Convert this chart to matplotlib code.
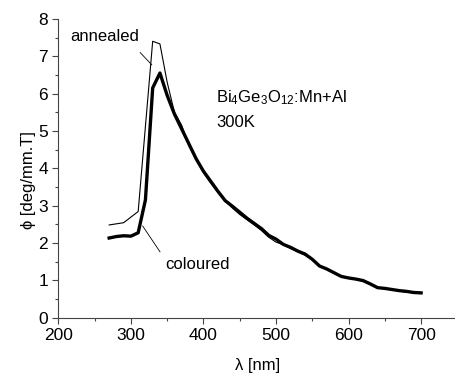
import matplotlib
matplotlib.use("Agg")
import matplotlib.pyplot as plt
from matplotlib.ticker import MultipleLocator

plt.rcParams['font.family'] = ['Liberation Sans', 'DejaVu Sans']
plt.rcParams['mathtext.fontset'] = 'custom'
plt.rcParams['mathtext.rm'] = 'Liberation Sans'
plt.rcParams['mathtext.it'] = 'Liberation Sans:italic'

wl_coloured = [270, 280, 290, 300, 310, 320, 330, 340, 350, 360, 370, 380, 390, 400,
               410, 420, 430, 440, 450, 460, 470, 480, 490, 500, 510, 520, 530, 540,
               550, 560, 570, 580, 590, 600, 610, 620, 630, 640, 650, 660, 670, 680,
               690, 700]
phi_coloured = [2.13, 2.17, 2.19, 2.18, 2.27, 3.15, 6.15, 6.55, 5.95, 5.45, 5.05, 4.65,
                4.25, 3.92, 3.65, 3.38, 3.13, 2.98, 2.82, 2.66, 2.52, 2.38, 2.20, 2.10,
                1.96, 1.88, 1.78, 1.70, 1.56, 1.38, 1.30, 1.20, 1.10, 1.06, 1.03, 0.99,
                0.90, 0.80, 0.78, 0.75, 0.72, 0.70, 0.67, 0.66]

wl_annealed = [270, 290, 310, 330, 340, 350, 360, 370, 380, 390, 400, 410, 420, 430,
               440, 450, 460, 470, 480, 490, 500, 510, 520, 530, 540, 550, 560, 570,
               580, 590, 600, 610, 620, 630, 640, 650, 660, 670, 680, 690, 700]
phi_annealed = [2.48, 2.54, 2.84, 7.40, 7.33, 6.30, 5.50, 5.15, 4.60, 4.22, 3.88, 3.60,
                3.35, 3.12, 2.93, 2.76, 2.62, 2.48, 2.33, 2.15, 2.02, 1.95, 1.85, 1.76,
                1.67, 1.55, 1.37, 1.31, 1.19, 1.09, 1.05, 1.02, 0.97, 0.88, 0.80, 0.77,
                0.74, 0.71, 0.68, 0.66, 0.65]

fig = plt.figure(figsize=(4.56, 3.78), dpi=100)
ax = fig.add_axes([0.128, 0.160, 0.875, 0.790])

ax.plot(wl_annealed, phi_annealed, color='black', lw=0.8)
ax.plot(wl_coloured, phi_coloured, color='black', lw=2.4)

ax.set_xlim(200, 750)
ax.set_ylim(0, 8)
ax.xaxis.set_major_locator(MultipleLocator(100))
ax.xaxis.set_minor_locator(MultipleLocator(50))
ax.yaxis.set_major_locator(MultipleLocator(1))
ax.yaxis.set_minor_locator(MultipleLocator(0.5))
ax.tick_params(which='major', direction='out', length=4.5, width=0.8, labelsize=12.5, pad=3, color='#444444')
ax.tick_params(which='minor', direction='out', length=2.3, width=0.8, color='#444444')

for s in ['top', 'right']:
    ax.spines[s].set_visible(False)
for s in ['left', 'bottom']:
    ax.spines[s].set_color('#444444')
    ax.spines[s].set_linewidth(0.8)

ax.set_xlabel('λ [nm]', fontsize=12, labelpad=11)
ax.set_ylabel('ϕ [deg/mm.T]', fontsize=12)
ax.yaxis.set_label_coords(-0.055, 0.46)

ax.text(216, 7.52, 'annealed', fontsize=12, ha='left', va='center')
ax.plot([312.7, 328.7], [7.10, 6.77], color='black', lw=0.6)
ax.text(347, 1.41, 'coloured', fontsize=12, ha='left', va='center')
ax.plot([316.3, 340.1], [2.45, 1.76], color='black', lw=0.6)

ax.text(417.6, 5.76, r'Bi$_4$Ge$_3$O$_{12}$:Mn+Al', fontsize=12, ha='left', va='baseline')
ax.text(417.6, 5.11, '300K', fontsize=12, ha='left', va='baseline')

fig.savefig('out.png', dpi=100)
